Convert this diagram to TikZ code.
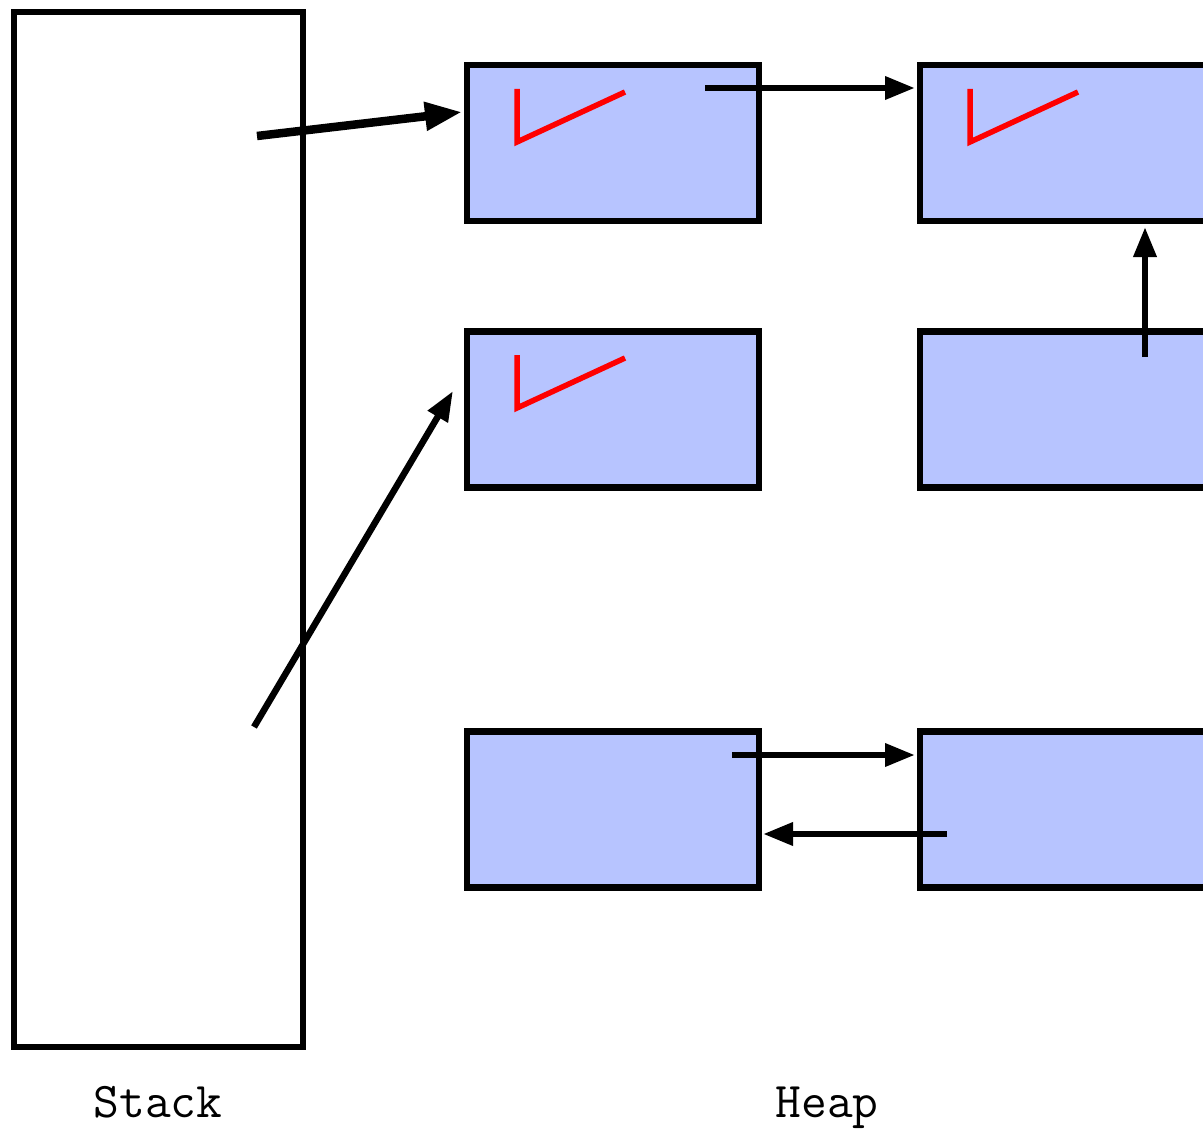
\documentclass[tikz,border=0pt]{standalone}
\usetikzlibrary{arrows.meta}
\definecolor{heapfill}{RGB}{183,196,255}
\begin{document}
\begin{tikzpicture}[x=1pt,y=-1pt,
  box/.style={draw=black,line width=6.5pt,fill=heapfill,minimum width=292pt,minimum height=156pt,inner sep=0pt,outer sep=0pt},
  stackbox/.style={draw=black,line width=6.5pt,fill=white,minimum width=289pt,minimum height=1035pt,inner sep=0pt,outer sep=0pt},
  check/.style={draw=red,line width=5.5pt},
  ptr/.style={draw=black,line width=6.5pt,-{Triangle[length=30pt,width=22pt]}},
  bigptr/.style={draw=black,line width=8.5pt,-{Triangle[length=37pt,width=27pt]}},
  lbl/.style={font=\ttfamily\fontsize{50}{50}\selectfont,inner sep=0pt,anchor=base}
]
\useasboundingbox (0,0) rectangle (1203,1129);
\fill[white] (0,0) rectangle (1203,1129);
% stack
\node[stackbox] (stack) at (158.5,529.5) {};
% heap boxes
\node[box] (b1) at (613,143) {};
\node[box] (b2) at (1066,143) {};
\node[box] (b3) at (613,409.5) {};
\node[box] (b4) at (1066,409.5) {};
\node[box] (b5) at (613,809.5) {};
\node[box] (b6) at (1066,809.5) {};
% red marks
\draw[check] (517,89) -- (517,142) -- (625,92);
\draw[check] (970,89) -- (970,142) -- (1078,92);
\draw[check] (517,355) -- (517,408) -- (625,358);
% connector endpoints
\coordinate (s1) at (257,136);
\coordinate (t1) at (462,112);
\coordinate (s2) at (254,727);
\coordinate (t2) at (453,391);
\coordinate (s3) at (705,88);
\coordinate (t3) at (915,88);
\coordinate (s4) at (1145,357);
\coordinate (t4) at (1145,227);
\coordinate (s5) at (732,755);
\coordinate (t5) at (915,755);
\coordinate (s6) at (947,834);
\coordinate (t6) at (763,834);
\draw[bigptr] (s1) -- (t1);
\draw[ptr] (s2) -- (t2);
\draw[ptr] (s3) -- (t3);
\draw[ptr] (s4) -- (t4);
\draw[ptr] (s5) -- (t5);
\draw[ptr] (s6) -- (t6);
% labels
\node[lbl] (stacklbl) at (158,1117) {Stack};
\node[lbl] (heaplbl) at (827,1117) {Heap};
\end{tikzpicture}
\end{document}
